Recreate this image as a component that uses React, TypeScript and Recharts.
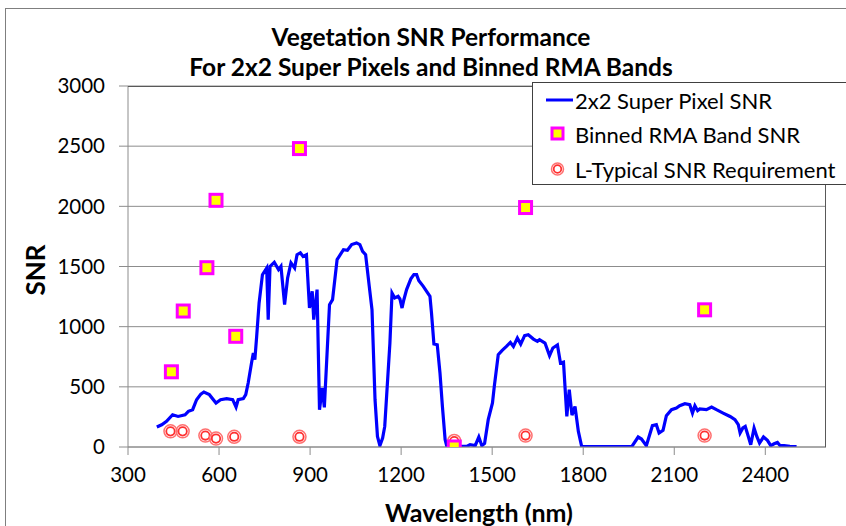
import React from "react";
import { ComposedChart, Line, Scatter, XAxis, YAxis, CartesianGrid } from "recharts";

// 2x2 Super Pixel SNR curve
const lineWavelengths = [
  395, 411, 427, 447, 465, 488, 499, 513, 526, 540, 550, 568, 590, 605, 625, 645, 656, 663, 680, 688,
  696, 707, 713, 718, 724, 732, 743, 757, 762, 768, 782, 796, 804, 816, 826, 837, 849, 857, 868, 877,
  888, 898, 907, 912, 923, 931, 940, 947, 964, 974, 989, 1000, 1010, 1023, 1037, 1053, 1064, 1073, 1083, 1095,
  1104, 1114, 1122, 1130, 1139, 1146, 1163, 1170, 1179, 1190, 1196, 1203, 1209, 1218, 1232, 1242, 1251, 1258, 1273, 1289,
  1295, 1300, 1308, 1319, 1328, 1336, 1345, 1350, 1383, 1416, 1427, 1444, 1456, 1466, 1475, 1487, 1501, 1507, 1520, 1533,
  1547, 1560, 1570, 1583, 1594, 1607, 1619, 1636, 1649, 1656, 1674, 1689, 1700, 1715, 1725, 1735, 1746, 1754, 1763, 1773,
  1784, 1795, 1960, 1981, 1992, 2008, 2028, 2041, 2050, 2063, 2074, 2091, 2107, 2118, 2135, 2151, 2160, 2168, 2177, 2184,
  2206, 2223, 2239, 2261, 2284, 2300, 2311, 2317, 2326, 2334, 2344, 2352, 2363, 2372, 2381, 2394, 2407, 2418, 2429, 2440,
  2449, 2462, 2481, 2503,
];
const lineSnr = [
  166, 185, 213, 268, 254, 268, 296, 310, 393, 440, 457, 435, 366, 393, 402, 393, 332, 393, 402, 435,
  532, 698, 781, 726, 919, 1197, 1432, 1488, 1058, 1501, 1535, 1474, 1501, 1183, 1405, 1530, 1488, 1598, 1613, 1584,
  1598, 1155, 1294, 1058, 1308, 310, 490, 329, 1183, 1224, 1557, 1600, 1640, 1635, 1682, 1696, 1682, 1626, 1598, 1335,
  1141, 393, 88, 11, 75, 171, 864, 1280, 1239, 1252, 1230, 1155, 1224, 1308, 1397, 1432, 1432, 1383, 1335, 1274,
  1252, 1114, 856, 850, 615, 337, 61, 11, 5, 5, 19, 11, 83, 11, 30, 227, 366, 504, 767, 803,
  836, 869, 836, 906, 855, 925, 933, 897, 878, 892, 864, 759, 823, 848, 698, 705, 254, 476, 265, 337,
  130, 3, 3, 83, 66, 11, 177, 185, 116, 138, 260, 310, 324, 343, 360, 352, 282, 343, 302, 316,
  310, 332, 310, 282, 254, 227, 185, 116, 158, 171, 88, 19, 158, 88, 33, 83, 55, 11, 27, 38,
  11, 11, 5, 3,
];

// Binned RMA Band SNR
const bandWavelengths = [443, 482, 560, 590, 655, 865, 1375, 1610, 2200];
const bandSnr = [625, 1130, 1490, 2050, 920, 2480, 0, 1990, 1140];

// L-Typical SNR Requirement
const reqWavelengths = [440, 480, 555, 590, 650, 865, 1375, 1610, 2200];
const reqSnr = [130, 130, 95, 70, 85, 85, 50, 95, 95];

const xTicks = [300, 600, 900, 1200, 1500, 1800, 2100, 2400];
const yTicks = [0, 500, 1000, 1500, 2000, 2500, 3000];

const lineData = lineWavelengths.map((nm, i) => ({ nm, snr: lineSnr[i] }));
const bandData = bandWavelengths.map((nm, i) => ({ nm, snr: bandSnr[i] }));
const reqData = reqWavelengths.map((nm, i) => ({ nm, snr: reqSnr[i] }));

const FONT = "Lato, 'Open Sans', sans-serif";

const SquareShape = (props: any) => {
  const { cx, cy } = props;
  if (cx == null || cy == null) return null;
  return <rect x={cx - 6} y={cy - 6} width={12} height={12} fill="#FFFF00" stroke="#FF00FF" strokeWidth={3} />;
};

const RingShape = (props: any) => {
  const { cx, cy } = props;
  if (cx == null || cy == null) return null;
  return (
    <g>
      <circle cx={cx} cy={cy} r={6.5} fill="none" stroke="#FF7070" strokeWidth={1.5} />
      <circle cx={cx} cy={cy} r={4.2} fill="#FFFFFF" stroke="#FF3030" strokeWidth={1.8} />
    </g>
  );
};

export default function App() {
  return (
    <div
      style={{
        position: "absolute",
        left: 0,
        top: 0,
        width: 846,
        height: 526,
        overflow: "hidden",
        background: "#fff",
        fontFamily: FONT,
      }}
    >
      {/* chart area border */}
      <div
        style={{
          position: "absolute",
          left: 5,
          top: 8,
          width: 900,
          height: 600,
          border: "1px solid #7F7F7F",
          boxSizing: "border-box",
        }}
      />
      <div style={{ position: "absolute", left: 0, top: 0 }}>
        <ComposedChart
          width={846}
          height={526}
          margin={{ top: 86, right: 20, bottom: 0, left: 0 }}
        >
          <CartesianGrid vertical={false} horizontal={true} stroke="#8C8C8C" strokeWidth={1} />
          <XAxis
            type="number"
            dataKey="nm"
            domain={[300, 2600]}
            ticks={xTicks}
            allowDataOverflow
            height={79}
            tickSize={8}
            tickMargin={12}
            axisLine={{ stroke: "#8C8C8C" }}
            tickLine={{ stroke: "#8C8C8C" }}
            tick={{ fill: "#000", fontSize: 20.5, fontFamily: FONT }}
          />
          <YAxis
            type="number"
            dataKey="snr"
            domain={[0, 3000]}
            ticks={yTicks}
            allowDataOverflow
            width={128}
            tickSize={9}
            tickMargin={14}
            axisLine={{ stroke: "#8C8C8C" }}
            tickLine={{ stroke: "#8C8C8C" }}
            tick={{ fill: "#000", fontSize: 20.5, fontFamily: FONT }}
          />
          <Line
            data={lineData}
            dataKey="snr"
            type="linear"
            stroke="#0000FF"
            strokeWidth={3.2}
            dot={false}
            activeDot={false}
            isAnimationActive={false}
          />
          <Scatter data={reqData} dataKey="snr" shape={RingShape} isAnimationActive={false} />
          <Scatter data={bandData} dataKey="snr" shape={SquareShape} isAnimationActive={false} />
        </ComposedChart>
      </div>
      {/* plot top/right border */}
      <div
        style={{
          position: "absolute",
          left: 128,
          top: 86,
          width: 698,
          height: 361,
          borderTop: "1px solid #595959",
          borderRight: "1px solid #595959",
          boxSizing: "border-box",
          pointerEvents: "none",
        }}
      />
      {/* title */}
      <div
        style={{
          position: "absolute",
          left: 0,
          width: 862,
          top: 22,
          textAlign: "center",
          fontWeight: 700,
          fontSize: 24.5,
          lineHeight: "30px",
          color: "#000",
        }}
      >
        Vegetation SNR Performance
        <br />
        For 2x2 Super Pixels and Binned RMA Bands
      </div>
      {/* y label */}
      <div
        style={{
          position: "absolute",
          left: 35,
          top: 270,
          transform: "translate(-50%, -50%) rotate(-90deg)",
          fontWeight: 700,
          fontSize: 26,
          color: "#000",
          whiteSpace: "nowrap",
        }}
      >
        SNR
      </div>
      {/* x label */}
      <div
        style={{
          position: "absolute",
          left: 479,
          top: 512,
          transform: "translate(-50%, -50%)",
          fontWeight: 700,
          fontSize: 25,
          color: "#000",
          whiteSpace: "nowrap",
        }}
      >
        Wavelength (nm)
      </div>
      {/* legend */}
      <div
        style={{
          position: "absolute",
          left: 532,
          top: 82,
          width: 330,
          height: 103,
          border: "1px solid #404040",
          background: "#fff",
          boxSizing: "border-box",
          fontSize: 22,
          color: "#000",
        }}
      >
        <svg width={40} height={103} style={{ position: "absolute", left: 0, top: 0 }}>
          <line x1={13} y1={17} x2={41} y2={17} stroke="#0000FF" strokeWidth={3} />
          <rect x={19} y={45} width={11} height={11} fill="#FFFF00" stroke="#FF00FF" strokeWidth={3} />
          <circle cx={24.5} cy={86} r={6} fill="none" stroke="#FF7070" strokeWidth={1.5} />
          <circle cx={24.5} cy={86} r={3.8} fill="#fff" stroke="#FF3030" strokeWidth={1.8} />
        </svg>
        <div style={{ position: "absolute", left: 42, top: 17, transform: "translateY(-50%)", whiteSpace: "nowrap" }}>
          2x2 Super Pixel SNR
        </div>
        <div style={{ position: "absolute", left: 42, top: 51, transform: "translateY(-50%)", whiteSpace: "nowrap" }}>
          Binned RMA Band SNR
        </div>
        <div style={{ position: "absolute", left: 42, top: 86, transform: "translateY(-50%)", whiteSpace: "nowrap" }}>
          L-Typical SNR Requirement
        </div>
      </div>
    </div>
  );
}
